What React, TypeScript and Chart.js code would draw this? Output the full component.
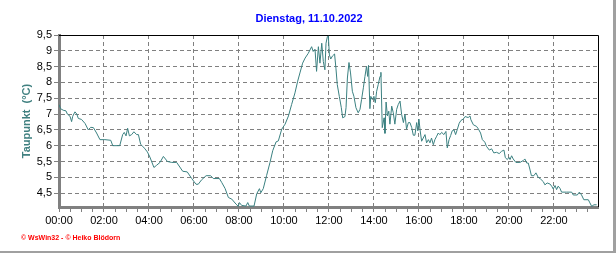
import React, { useEffect, useRef } from 'react';
import { Chart, registerables } from 'chart.js';

Chart.register(...registerables);

const TITLE = 'Dienstag, 11.10.2022';
const Y_LABEL = 'Taupunkt  (°C)';
const COPYRIGHT = '© WsWin32 - © Heiko Blödorn';

// time of day in hours
const hours = [
  0.0, 0.07, 0.19, 0.31, 0.37, 0.49, 0.56, 0.61, 0.71, 0.79, 0.86, 1.0, 1.16, 1.3, 1.41, 1.53, 1.67, 1.82,
  2.04, 2.3, 2.39, 2.7, 2.83, 2.9, 2.98, 3.05, 3.13, 3.23, 3.33, 3.45, 3.53, 3.63, 3.72, 3.82, 3.93,
  4.04, 4.22, 4.34, 4.49, 4.64, 4.82, 5.01, 5.23, 5.5, 5.7, 5.9, 6.09, 6.19, 6.34, 6.54, 6.74, 6.86,
  7.13, 7.23, 7.38, 7.53, 7.68, 7.87, 7.97, 8.02, 8.12, 8.31, 8.39, 8.46, 8.67,
  8.79, 8.91, 8.97, 9.08, 9.23, 9.38, 9.5, 9.65, 9.75, 9.9, 10.05, 10.2, 10.34, 10.49, 10.61, 10.71,
  10.83, 10.94, 11.08, 11.23, 11.3, 11.38, 11.45, 11.53, 11.6, 11.68, 11.75, 11.82, 11.87, 11.93, 11.97,
  12.02, 12.08, 12.16, 12.25, 12.31, 12.37, 12.46, 12.55, 12.61, 12.71, 12.76, 12.82, 12.89, 12.96,
  13.04, 13.11, 13.2, 13.3, 13.38, 13.45, 13.53, 13.6, 13.67, 13.72, 13.76, 13.82, 13.86, 13.93,
  14.0, 14.06, 14.12, 14.19, 14.27, 14.31, 14.37, 14.45, 14.49, 14.54, 14.6, 14.66, 14.71, 14.79, 14.86, 14.93,
  15.01, 15.08, 15.16, 15.23, 15.31, 15.38, 15.45, 15.53, 15.6, 15.68, 15.75, 15.82, 15.9, 15.95,
  16.0, 16.05, 16.12, 16.19, 16.27, 16.34, 16.42, 16.49, 16.56, 16.64, 16.71, 16.79, 16.86, 16.93,
  17.01, 17.11, 17.2, 17.26, 17.34, 17.41, 17.48, 17.56, 17.63, 17.7, 17.79, 17.87, 17.97,
  18.05, 18.19, 18.27, 18.31, 18.42, 18.56, 18.64, 18.74, 18.82, 18.93, 19.0, 19.13, 19.23, 19.33, 19.45,
  19.57, 19.67, 19.78, 19.84, 19.93, 20.0, 20.05, 20.12, 20.19, 20.31, 20.49, 20.64, 20.71, 20.79, 20.86,
  20.93, 21.0, 21.11, 21.2, 21.3, 21.4, 21.53, 21.6, 21.7, 21.82, 21.9, 21.97, 22.05, 22.12, 22.19, 22.27,
  22.34, 22.56, 22.79, 22.86, 23.04, 23.13, 23.23, 23.33, 23.53, 23.6, 23.68, 23.78, 23.9,
];

// dew point in °C
const dewPoint = [
  7.3, 7.17, 7.12, 7.1, 7.0, 6.93, 6.76, 6.93, 7.07, 7.0, 6.86, 6.83, 6.7, 6.5, 6.58, 6.57, 6.4, 6.19,
  6.19, 6.17, 6.0, 6.0, 6.35, 6.42, 6.31, 6.55, 6.31, 6.35, 6.44, 6.35, 6.35, 6.04, 5.98, 5.9, 5.8,
  5.64, 5.31, 5.38, 5.47, 5.66, 5.5, 5.47, 5.47, 5.19, 5.17, 4.96, 4.78, 4.78, 4.92, 5.05, 5.05, 4.96,
  4.96, 4.84, 4.65, 4.36, 4.31, 4.15, 4.08, 4.2, 4.11, 4.09, 4.2, 4.09, 4.09,
  4.48, 4.64, 4.51, 4.64, 5.06, 5.47, 5.84, 6.12, 6.15, 6.52, 6.68, 6.94, 7.3, 7.67, 8.04, 8.3,
  8.61, 8.77, 8.92, 9.13, 8.98, 9.05, 8.35, 9.13, 8.61, 9.24, 8.66, 8.4, 9.24, 9.45, 9.5,
  8.87, 8.74, 8.84, 8.9, 8.45, 7.93, 7.56, 7.2, 6.88, 6.92, 7.2, 8.14, 8.63, 8.3,
  7.72, 7.56, 7.2, 7.04, 7.15, 7.46, 7.83, 8.19, 8.51, 8.19, 8.54, 7.17, 7.56, 7.46,
  7.56, 7.36, 7.72, 7.93, 8.19, 8.32, 6.57, 6.88, 6.39, 7.38, 6.94, 7.09, 6.68, 7.25, 7.04, 6.68,
  7.15, 7.3, 7.41, 6.99, 6.73, 6.99, 6.52, 6.73, 6.73, 6.57, 6.33, 6.33, 6.73, 6.47,
  6.84, 6.5, 6.14, 6.24, 6.35, 6.09, 6.19, 6.09, 6.24, 6.03, 6.19, 6.3, 6.4, 6.35,
  6.42, 6.35, 6.45, 5.93, 6.19, 6.32, 6.47, 6.5, 6.35, 6.5, 6.71, 6.8, 6.84,
  6.92, 6.89, 6.94, 6.82, 6.66, 6.61, 6.53, 6.4, 6.19, 6.11, 5.98, 5.86, 5.9, 5.77, 5.79,
  5.75, 5.82, 5.86, 5.62, 5.56, 5.63, 5.56, 5.68, 5.58, 5.47, 5.47, 5.53, 5.58, 5.45, 5.45,
  5.26, 5.05, 5.05, 5.14, 5.0, 4.95, 4.86, 4.76, 4.82, 4.79, 4.72, 4.63, 4.74, 4.61, 4.72, 4.65,
  4.53, 4.53, 4.53, 4.44, 4.44, 4.53, 4.44, 4.29, 4.29, 4.19, 4.08, 4.13, 4.13,
];

const yTickValues = [4.5, 5, 5.5, 6, 6.5, 7, 7.5, 8, 8.5, 9, 9.5];
const xMajorHours = [0, 2, 4, 6, 8, 10, 12, 14, 16, 18, 20, 22];
const xLabels = ['00:00', '02:00', '04:00', '06:00', '08:00', '10:00', '12:00', '14:00', '16:00', '18:00', '20:00', '22:00'];

const FONT = '"Liberation Sans", Arial, sans-serif';
const LINE_COLOR = '#3a8080';
const GRID_COLOR = '#808080';

const decorPlugin = {
  id: 'decor',
  afterDraw(chart: any) {
    const { ctx, chartArea: a } = chart;
    ctx.save();
    // top and right frame
    ctx.strokeStyle = '#000';
    ctx.lineWidth = 1;
    ctx.beginPath();
    ctx.moveTo(a.left, a.top + 0.5);
    ctx.lineTo(a.right + 0.5, a.top + 0.5);
    ctx.lineTo(a.right + 0.5, a.bottom);
    ctx.stroke();
    // outer frame right/bottom
    ctx.fillStyle = '#a0a0a0';
    ctx.fillRect(613, 0, 3, 253);
    ctx.fillRect(0, 251, 616, 2);
    // title
    ctx.fillStyle = '#0000ff';
    ctx.font = `bold 11px ${FONT}`;
    ctx.textAlign = 'center';
    ctx.textBaseline = 'middle';
    ctx.fillText(TITLE, 309, 19);
    // copyright
    ctx.fillStyle = '#ff0000';
    ctx.font = `bold 7px ${FONT}`;
    ctx.textAlign = 'left';
    ctx.fillText(COPYRIGHT, 21, 238);
    // y label
    ctx.translate(27, (a.top + a.bottom) / 2);
    ctx.rotate(-Math.PI / 2);
    ctx.fillStyle = '#408080';
    ctx.font = `bold 11px ${FONT}`;
    ctx.textAlign = 'center';
    ctx.fillText(Y_LABEL, 0, 0);
    ctx.restore();
  },
};

export default function App() {
  const ref = useRef<HTMLCanvasElement>(null);

  useEffect(() => {
    const minorHours: number[] = [];
    for (let h = 0; h < 24; h += 0.5) minorHours.push(h);

    const chart = new Chart(ref.current as HTMLCanvasElement, {
      type: 'line',
      data: {
        datasets: [
          {
            data: hours.map((h, i) => ({ x: h, y: dewPoint[i] })),
            borderColor: LINE_COLOR,
            borderWidth: 1,
            pointRadius: 0,
            tension: 0,
            fill: false,
          },
        ],
      },
      options: {
        animation: false,
        responsive: false,
        layout: { padding: { left: 0, top: 35, right: 18, bottom: 0 } },
        plugins: { legend: { display: false }, tooltip: { enabled: false }, title: { display: false } },
        scales: {
          x: {
            type: 'linear',
            min: 0,
            max: 23.96,
            afterBuildTicks: (s: any) => {
              s.ticks = minorHours.map((v) => ({ value: v }));
            },
            afterFit: (s: any) => {
              s.height = 46;
            },
            ticks: {
              autoSkip: false,
              maxRotation: 0,
              minRotation: 0,
              padding: 2,
              color: '#000',
              font: { family: FONT, size: 11 },
              callback: (v: any) => {
                const idx = xMajorHours.indexOf(Number(v));
                return idx >= 0 ? xLabels[idx] : '';
              },
            },
            grid: {
              color: (c: any) => (c.tick && xMajorHours.includes(c.tick.value) ? GRID_COLOR : 'rgba(0,0,0,0)'),
              tickColor: GRID_COLOR,
              tickLength: 5,
              lineWidth: 1,
            },
            border: { color: GRID_COLOR, width: 3, dash: [4, 3] },
          },
          y: {
            min: 4.06,
            max: 9.5,
            afterBuildTicks: (s: any) => {
              s.ticks = yTickValues.map((v) => ({ value: v }));
            },
            afterFit: (s: any) => {
              s.width = 59;
            },
            ticks: {
              padding: 2,
              color: '#000',
              font: { family: FONT, size: 11 },
              callback: (v: any) => String(v).replace('.', ','),
            },
            grid: {
              color: GRID_COLOR,
              tickColor: GRID_COLOR,
              tickLength: 5,
              lineWidth: 1,
            },
            border: { color: GRID_COLOR, width: 3, dash: [4, 3] },
          },
        },
      },
      plugins: [decorPlugin],
    } as any);
    return () => chart.destroy();
  }, []);

  return (
    <div style={{ position: 'absolute', left: 0, top: 0, width: 616, height: 253, background: '#fff' }}>
      <canvas ref={ref} width={616} height={253} style={{ display: 'block' }} />
    </div>
  );
}
